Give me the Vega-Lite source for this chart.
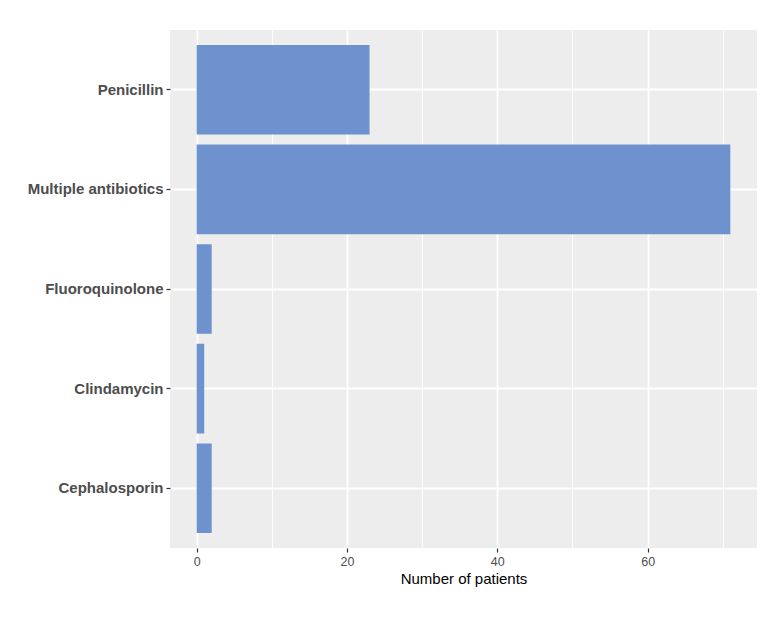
{
  "$schema": "https://vega.github.io/schema/vega-lite/v6.json",
  "width": 587,
  "height": 518,
  "autosize": {"type": "none"},
  "padding": {"left": 170, "top": 30, "right": 25, "bottom": 73},
  "background": "#ffffff",
  "data": {
    "values": [
      {"antibiotic": "Penicillin", "patients": 23},
      {"antibiotic": "Multiple antibiotics", "patients": 71},
      {"antibiotic": "Fluoroquinolone", "patients": 2},
      {"antibiotic": "Clindamycin", "patients": 1},
      {"antibiotic": "Cephalosporin", "patients": 2}
    ]
  },
  "mark": {"type": "bar", "color": "#6E92CD"},
  "encoding": {
    "y": {
      "field": "antibiotic",
      "type": "nominal",
      "sort": ["Penicillin", "Multiple antibiotics", "Fluoroquinolone", "Clindamycin", "Cephalosporin"],
      "scale": {"paddingInner": 0.1, "paddingOuter": 0.15},
      "axis": {
        "title": null,
        "bandPosition": 0.5,
        "grid": true,
        "gridColor": "#ffffff",
        "gridWidth": 1.8,
        "domain": false,
        "tickColor": "#333333",
        "tickSize": 4,
        "tickWidth": 1.2,
        "labelFont": "Liberation Sans",
        "labelFontSize": 15,
        "labelFontWeight": "bold",
        "labelColor": "#4D4D4D",
        "labelPadding": 3
      }
    },
    "x": {
      "field": "patients",
      "type": "quantitative",
      "scale": {"domain": [-3.55, 74.55], "nice": false, "zero": false},
      "axis": {
        "title": "Number of patients",
        "values": [0, 10, 20, 30, 40, 50, 60, 70],
        "labelExpr": "datum.value % 20 === 0 ? datum.label : ''",
        "grid": true,
        "gridColor": "#ffffff",
        "gridWidth": {"condition": {"test": "datum.value % 20 === 0", "value": 1.8}, "value": 0.9},
        "tickOpacity": {"condition": {"test": "datum.value % 20 === 0", "value": 1}, "value": 0},
        "domain": false,
        "tickColor": "#333333",
        "tickSize": 4,
        "tickWidth": 1.2,
        "labelFont": "Liberation Sans",
        "labelFontSize": 12.5,
        "labelColor": "#4D4D4D",
        "labelPadding": 3,
        "titleFont": "Liberation Sans",
        "titleFontSize": 15,
        "titleFontWeight": "normal",
        "titleColor": "#000000",
        "titlePadding": 4
      }
    }
  },
  "config": {
    "view": {"fill": "#ECEDEC", "stroke": null}
  }
}
